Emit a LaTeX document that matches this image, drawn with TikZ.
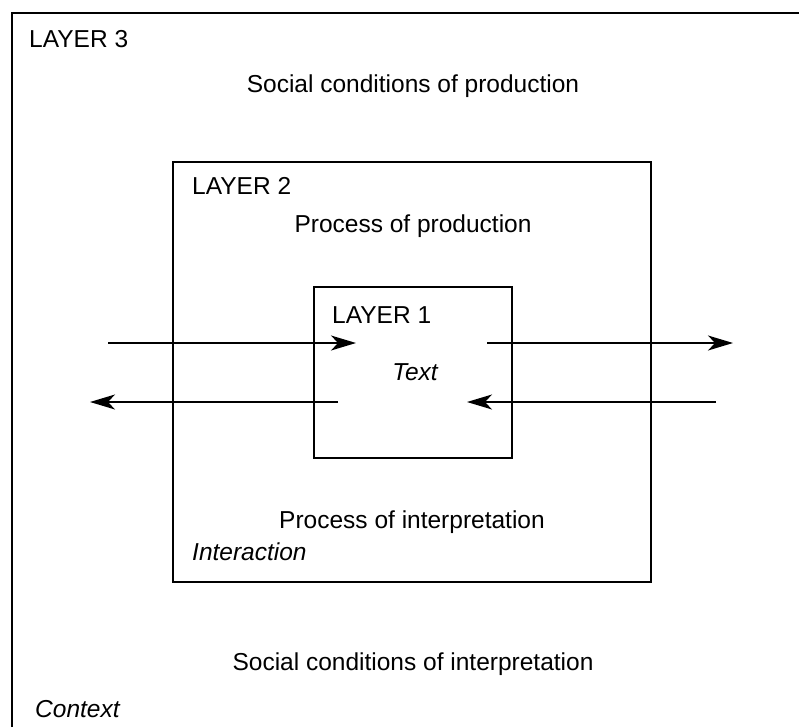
\documentclass[tikz,border=0pt]{standalone}
\usepackage{fontspec}
\setmainfont{Liberation Sans}
\usetikzlibrary{arrows.meta}
\begin{document}
\begin{tikzpicture}[x=1pt,y=-1pt,
  lbl/.style={inner sep=0pt,font=\fontsize{24.5}{29}\selectfont},
  ilbl/.style={lbl,font=\fontsize{24.5}{29}\selectfont\itshape},
  boxline/.style={draw=black,line width=1.4pt},
  flow/.style={line width=1.4pt,-{Stealth[length=25pt,width=15pt,inset=7pt]}}]
\useasboundingbox (0,0) rectangle (799,727);
% outer layer (cropped frame)
\coordinate (o1) at (12,727);
\coordinate (o2) at (12,13);
\coordinate (o3) at (799,13);
\draw[boxline] (o1) -- (o2) -- (o3);
% layer boxes
\node[boxline,minimum width=478pt,minimum height=420pt,inner sep=0pt] (L2) at (412,372) {};
\node[boxline,minimum width=198pt,minimum height=171pt,inner sep=0pt] (L1) at (413,372.5) {};
% labels
\node[lbl,anchor=base west] (t3) at (29,48) {LAYER 3};
\node[lbl,anchor=base] (scp) at (413,93) {Social conditions of production};
\node[lbl,anchor=base west] (t2) at (192,195) {LAYER 2};
\node[lbl,anchor=base] (pp) at (413,232) {Process of production};
\node[lbl,anchor=base west] (t1) at (332,323) {LAYER 1};
\node[ilbl,anchor=base] (txt) at (415,380) {Text};
\node[lbl,anchor=base] (pi) at (412,528) {Process of interpretation};
\node[ilbl,anchor=base west] (inter) at (192,560) {Interaction};
\node[lbl,anchor=base] (sci) at (413,670) {Social conditions of interpretation};
\node[ilbl,anchor=base west] (ctx) at (35,717) {Context};
% arrows
\coordinate (a1s) at (108,343); \coordinate (a1e) at (356,343);
\coordinate (a2s) at (487,343); \coordinate (a2e) at (733,343);
\coordinate (a3s) at (338,402); \coordinate (a3e) at (90,402);
\coordinate (a4s) at (716,402); \coordinate (a4e) at (467,402);
\draw[flow] (a1s) -- (a1e);
\draw[flow] (a2s) -- (a2e);
\draw[flow] (a3s) -- (a3e);
\draw[flow] (a4s) -- (a4e);
\end{tikzpicture}
\end{document}
